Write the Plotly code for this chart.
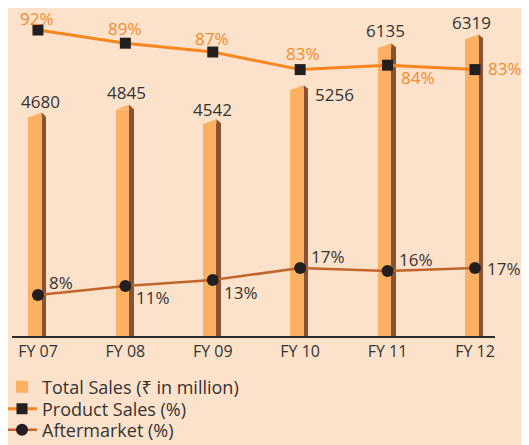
import plotly.graph_objects as go

categories = ["FY 07", "FY 08", "FY 09", "FY 10", "FY 11", "FY 12"]
total_sales = [4680, 4845, 4542, 5256, 6135, 6319]
product_pct = [92, 89, 87, 83, 84, 83]
after_pct = [8, 11, 13, 17, 16, 17]

# styling
BG = "#FDE2CB"
FRONT = "#FBB062"
SIDE = "#8A5132"
PROD = "#F7861E"
AFTER = "#C2652C"
DARK = "#231F20"
TEXT = "#333333"
PCT_TXT = "#F58A2C"
FONT = "'Open Sans', 'Noto Sans', 'DejaVu Sans', sans-serif"

xs = list(range(len(categories)))
# bar geometry in category units (relative to category centre)
F_L, F_R, S_R = -0.111, 0.042, 0.095
SLOPE_F, SLOPE_S = 100, 85  # data units drop of the top faces

fig = go.Figure()

fig.add_trace(go.Bar(
    x=xs, y=[v - SLOPE_F for v in total_sales], base=0,
    width=F_R - F_L, offset=F_L, marker=dict(color=FRONT, line=dict(width=0)),
    name="Total Sales (₹ in million)", showlegend=True, legend="legend", hoverinfo="skip",
))
fig.add_trace(go.Bar(
    x=xs, y=[v - SLOPE_S for v in total_sales], base=0,
    width=S_R - F_R, offset=F_R, marker=dict(color=SIDE, line=dict(width=0)),
    showlegend=False, hoverinfo="skip",
))
fx, fy, sx, sy = [], [], [], []
for x, v in zip(xs, total_sales):
    fx += [x + F_L, x + F_R, x + F_R, x + F_L, None]
    fy += [v - SLOPE_F, v, v - SLOPE_F, v - SLOPE_F, None]
    sx += [x + F_R, x + F_R, x + S_R, x + F_R, None]
    sy += [v - SLOPE_S - 5, v, v - SLOPE_S, v - SLOPE_S - 5, None]
fig.add_trace(go.Scatter(x=fx, y=fy, fill="toself", fillcolor=FRONT, mode="lines",
                         line=dict(width=0, color=FRONT), showlegend=False, hoverinfo="skip"))
fig.add_trace(go.Scatter(x=sx, y=sy, fill="toself", fillcolor=SIDE, mode="lines",
                         line=dict(width=0, color=SIDE), showlegend=False, hoverinfo="skip"))

fig.add_trace(go.Scatter(
    x=xs, y=product_pct, yaxis="y2", mode="lines+markers", name="Product Sales (%)",
    line=dict(color=PROD, width=3), marker=dict(symbol="square", size=11, color=DARK),
    legend="legend2",
))
fig.add_trace(go.Scatter(
    x=xs, y=after_pct, yaxis="y3", mode="lines+markers", name="Aftermarket (%)",
    line=dict(color=AFTER, width=2.6), marker=dict(symbol="circle", size=12, color=DARK),
    legend="legend3",
))

ann = []
bar_off = [(3, 11), (1, 12), (0, 10), (34, -9), (-2, 13), (-3, 12)]
for x, v, (dx, dy) in zip(xs, total_sales, bar_off):
    ann.append(dict(x=x, y=v, text=str(v), showarrow=False, xshift=dx, yshift=dy,
                    font=dict(size=17, color=TEXT, family=FONT)))
prod_off = [(-1, 12), (0, 15), (-1, 14), (3, 16), (30, -12), (30, 1)]
for x, v, (dx, dy) in zip(xs, product_pct, prod_off):
    ann.append(dict(x=x, y=v, yref="y2", text=f"{v}%", showarrow=False, xshift=dx, yshift=dy,
                    font=dict(size=17, color=PCT_TXT, family=FONT)))
after_off = [(23, 12), (28, -12), (28, -13), (28, 11), (28, 11), (29, -1)]
for x, v, (dx, dy) in zip(xs, after_pct, after_off):
    ann.append(dict(x=x, y=v, yref="y3", text=f"{v}%", showarrow=False, xshift=dx, yshift=dy,
                    font=dict(size=17, color=TEXT, family=FONT)))

W, H = 521, 437
leg_common = dict(xref="paper", yref="container", x=-0.0207, xanchor="left",
                  yanchor="middle", bgcolor="rgba(0,0,0,0)",
                  font=dict(size=18, color=TEXT, family=FONT))

fig.update_layout(
    width=W, height=H,
    margin=dict(l=4, r=34, t=0, b=109, autoexpand=False),
    paper_bgcolor=BG, plot_bgcolor=BG,
    barmode="overlay", bargap=0,
    font=dict(family=FONT, size=16, color=TEXT),
    xaxis=dict(range=[-0.297, 5.229], tickvals=xs, ticktext=categories, showgrid=False,
               zeroline=False, showline=True, linecolor="#2B2B2B", linewidth=1.5,
               ticks="", tickfont=dict(size=16, color=TEXT, family=FONT), fixedrange=True,
               automargin=False),
    yaxis=dict(range=[0, 6872], visible=False, showgrid=False, fixedrange=True),
    yaxis2=dict(range=[22.45, 97.0], overlaying="y", visible=False, showgrid=False),
    yaxis3=dict(range=[-5.67, 103.67], overlaying="y", visible=False, showgrid=False),
    legend=dict(y=1 - 379 / H, **leg_common),
    legend2=dict(y=1 - 401 / H, **leg_common),
    legend3=dict(y=1 - 422 / H, **leg_common),
    annotations=ann,
    showlegend=True,
)

fig.write_html("out.html")
